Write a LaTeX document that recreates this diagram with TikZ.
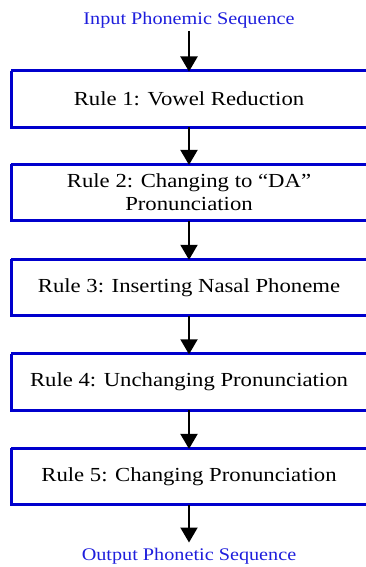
\documentclass[tikz,border=0pt]{standalone}
\usepackage{fontspec}
\setmainfont[FakeStretch=1.14]{Liberation Serif}
\usetikzlibrary{arrows.meta}
\definecolor{boxblue}{RGB}{0,0,205}
\definecolor{txtblue}{RGB}{30,30,220}
\tikzset{
  rulebox/.style={minimum width=355.4bp, minimum height=56bp, inner sep=0pt, align=center, font=\fontsize{20}{23}\selectfont, text=black},
  boxline/.style={draw=boxblue, line width=3bp},
  endtext/.style={text=txtblue, font=\fontsize{17.8}{20}\selectfont, inner sep=1bp},
  flow/.style={line width=2bp, -{Triangle[width=17bp,length=15bp]}, shorten >=-0.5bp}
}
\begin{document}
\begin{tikzpicture}[x=1bp,y=-1bp]
\useasboundingbox (0,0) rectangle (365,567);
\node[endtext] (in) at (189,20) {Input Phonemic Sequence};
\node[rulebox] (r1) at (189,99.2) {Rule 1: Vowel Reduction};
\node[rulebox] (r2) at (189,192.6) {Rule 2: Changing to ``DA''\\Pronunciation};
\node[rulebox] (r3) at (189,287.5) {Rule 3: Inserting Nasal Phoneme};
\node[rulebox] (r4) at (189,382) {Rule 4: Unchanging Pronunciation};
\node[rulebox] (r5) at (189,476.6) {Rule 5: Changing Pronunciation};
\node[endtext] (out) at (189,556) {Output Phonetic Sequence};
\foreach \n in {r1,r2,r3,r4,r5}{
  \draw[boxline] (\n.north west) -- ++(375,0) (\n.north west) -- (\n.south west) -- ++(375,0);
}
\coordinate (inb) at (189,31);
\coordinate (outt) at (189,542);
\draw[flow] (inb) -- (r1.north);
\draw[flow] (r1.south) -- (r2.north);
\draw[flow] (r2.south) -- (r3.north);
\draw[flow] (r3.south) -- (r4.north);
\draw[flow] (r4.south) -- (r5.north);
\draw[flow] (r5.south) -- (outt);
\end{tikzpicture}
\end{document}
